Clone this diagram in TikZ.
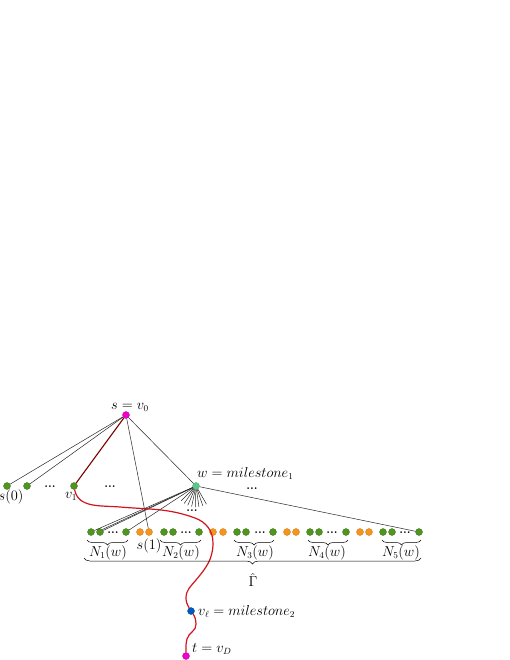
\documentclass[tikz,border=0pt]{standalone}
\usetikzlibrary{decorations.pathreplacing,calc}
\definecolor{gdot}{RGB}{80,150,30}
\definecolor{odot}{RGB}{247,148,30}
\definecolor{mint}{RGB}{90,200,140}
\definecolor{mag}{RGB}{240,0,200}
\definecolor{bdot}{RGB}{0,90,190}
\definecolor{rpath}{RGB}{210,20,30}
\definecolor{dred}{RGB}{120,0,0}
\begin{document}
\begin{tikzpicture}[x=1pt,y=-1pt,
  dot/.style={circle,inner sep=0pt,minimum size=7pt,line width=0.3pt},
  gd/.style={dot,fill=gdot,draw=gdot!70!black},
  od/.style={dot,fill=odot,draw=odot!80!black},
  lab/.style={font=\fontsize{13.5}{16}\selectfont,inner sep=0pt},
  dts/.style={font=\fontsize{12}{12}\selectfont\bfseries,inner sep=0pt},
  edge/.style={line width=0.5pt,black!85},
  redp/.style={line width=1.2pt,rpath},
  brc/.style={decorate,decoration={brace,mirror,amplitude=5pt},line width=0.5pt}]
\useasboundingbox (0,0) rectangle (510,660);

% top nodes
\node[dot,fill=mag,draw=mag!80!black] (s) at (126,415) {};
\node[gd] (a0) at (7,486) {};
\node[gd] (a1) at (27,486) {};
\node[gd] (v1) at (74,486) {};
\node[dot,fill=mint,draw=mint!80!black] (w) at (196,486) {};
\node[dts] (d1) at (50,487) {...};
\node[dts] (d2) at (110,487) {...};
\node[dts] (d3) at (252,489) {...};
\node[dts] (d4) at (192,511) {...};

% bottom row
\foreach \n/\x in {g11/91,g12/100,g13/126,g21/164,g22/173,g23/199,g31/237,g32/246,g33/273,g41/310,g42/319,g43/346,g51/383,g52/392,g53/419}
  \node[gd] (\n) at (\x,532) {};
\foreach \n/\x in {o11/140,o12/149,o21/213,o22/223,o31/287,o32/296,o41/360,o42/369}
  \node[od] (\n) at (\x,532) {};
\foreach \n/\x in {e1/113,e2/186,e3/260,e4/332,e5/405}
  \node[dts] (\n) at (\x,533) {...};

% path nodes
\node[dot,fill=bdot,draw=bdot!80!black] (vl) at (191,611) {};
\node[dot,fill=mag,draw=mag!80!black] (t) at (186,656) {};

% labels
\node[lab] (ls) at (130,407) {$s=v_0$};
\node[lab] (la0) at (11,497) {$s(0)$};
\node[lab] (lv1) at (71,496) {$v_1$};
\node[lab,anchor=base west] (lw) at (197,477) {$w=milestone_1$};
\node[lab] (ls1) at (149,546) {$s(1)$};
\node[lab] (n1) at (108,553) {$N_1(w)$};
\node[lab] (n2) at (181,553) {$N_2(w)$};
\node[lab] (n3) at (255,553) {$N_3(w)$};
\node[lab] (n4) at (327,553) {$N_4(w)$};
\node[lab] (n5) at (401,553) {$N_5(w)$};
\node[lab] (lg) at (253,580) {$\hat{\Gamma}$};
\node[lab,anchor=base west] (lvl) at (198,615) {$v_\ell=milestone_2$};
\node[lab,anchor=base west] (lt) at (192,652) {$t=v_D$};

% edges from s
\draw[edge] (s) -- (a0);
\draw[edge] (s) -- (a1);
\draw[edge] (s) -- (o12);
\draw[edge] (s) -- (w);
\draw[line width=1.1pt,dred] (s) -- (v1);

% edges from w
\draw[edge] (w) -- (g11);
\draw[edge] (w) -- (g12);
\draw[edge] (w) -- (g12.north east);
\draw[edge] (w) -- (g13);
\draw[edge] (w) -- (g53);
\foreach \a [count=\i] in {225,236,247,258,268,278,289,300}{
  \coordinate (sp\i) at ($(w)+(\a:21pt)$);
  \draw[edge] (w) -- (sp\i);
}

% red path
\draw[redp] (v1) to[out=-80,in=175] (120,507) to[out=-5,in=160] (195,518)
  to[out=-20,in=90] (213,543) to[out=-90,in=50] (196,580)
  to[out=230,in=90] (186,598) to[out=-90,in=120] (vl);
\draw[redp] (vl) to[out=-55,in=95] (196,624) to[out=-85,in=75] (187,639)
  to[out=-105,in=90] (t);

% braces
\draw[brc] (87,540) -- (128,540);
\draw[brc] (160,540) -- (201,540);
\draw[brc] (234,540) -- (274,540);
\draw[brc] (308,540) -- (348,540);
\draw[brc] (382,540) -- (421,540);
\draw[brc,decoration={brace,mirror,amplitude=6pt}] (84,558) -- (421,558);
\end{tikzpicture}
\end{document}
